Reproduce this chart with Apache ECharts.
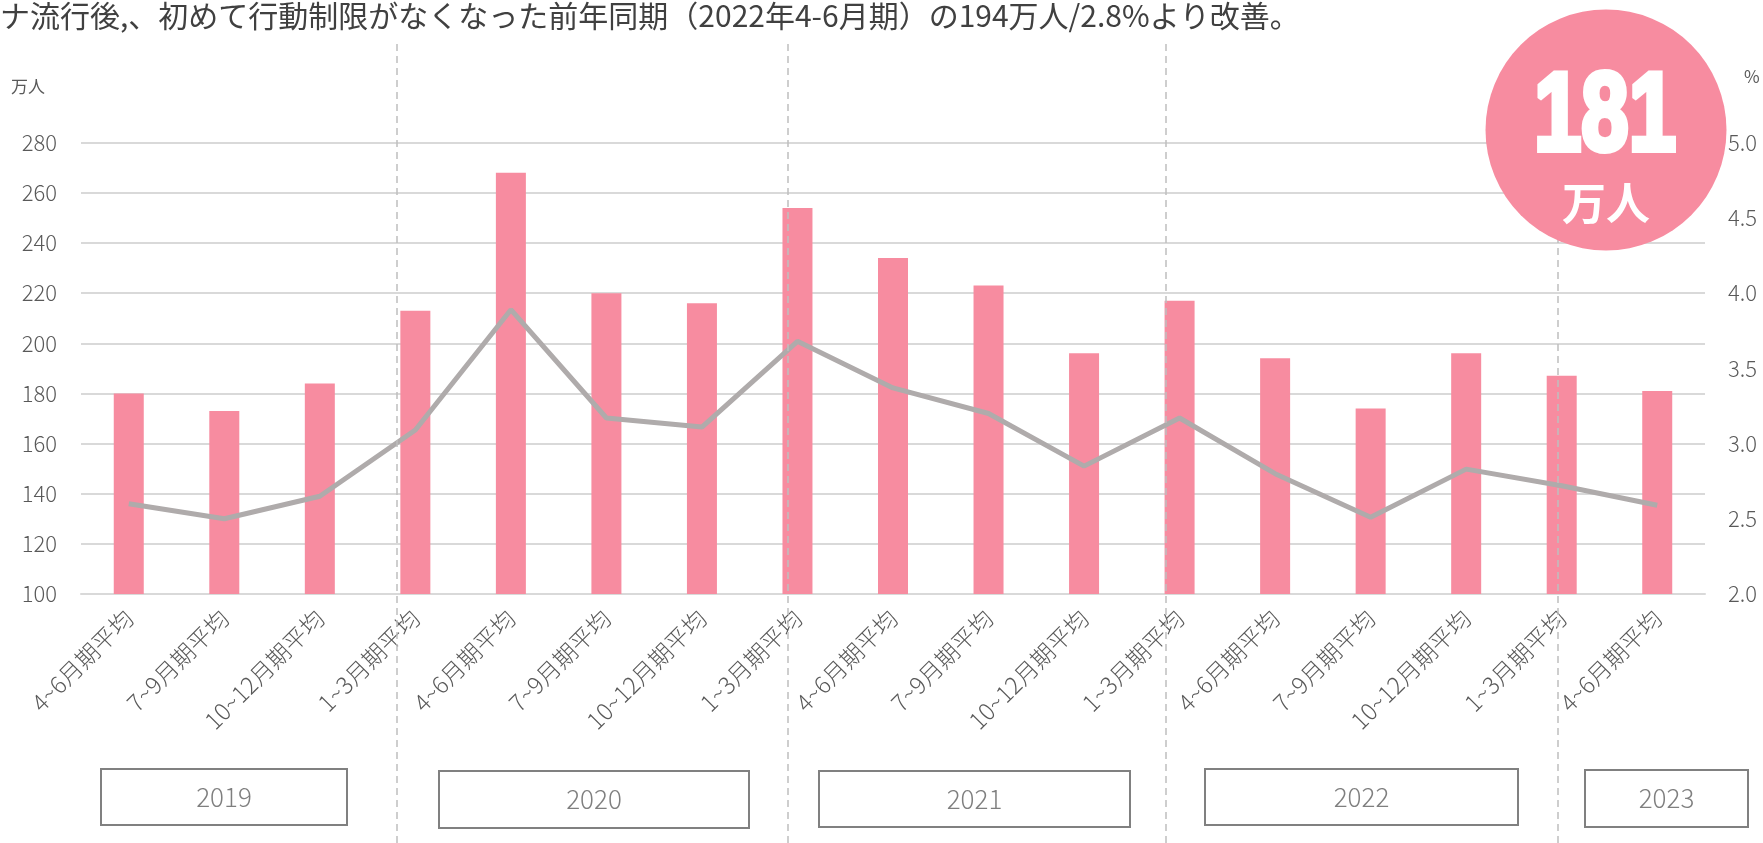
<!DOCTYPE html>
<html>
<head>
<meta charset="utf-8">
<script src="https://cdn.jsdelivr.net/npm/echarts@6/dist/echarts.min.js"></script>
<style>
  html, body { margin: 0; padding: 0; background: #fff; }
  #chart { width: 1763px; height: 843px; }
</style>
</head>
<body>
<div id="chart"></div>
<script>
// 四半期ラベル (2019年4-6月期 〜 2023年4-6月期)
const quarters = [
  '4~6月期平均', '7~9月期平均', '10~12月期平均',
  '1~3月期平均', '4~6月期平均', '7~9月期平均', '10~12月期平均',
  '1~3月期平均', '4~6月期平均', '7~9月期平均', '10~12月期平均',
  '1~3月期平均', '4~6月期平均', '7~9月期平均', '10~12月期平均',
  '1~3月期平均', '4~6月期平均'
]
// 完全失業者数 (万人)
const unemployed = [180, 173, 184, 213, 268, 220, 216, 254, 234, 223, 196, 217, 194, 174, 196, 187, 181]
// 完全失業率 (%)
const unemploymentRate = [2.60, 2.50, 2.65, 3.09, 3.89, 3.17, 3.11, 3.68, 3.37, 3.20, 2.85, 3.17, 2.80, 2.51, 2.83, 2.72, 2.59]
// 年の区切り線 (カテゴリ位置)
const yearDividers = [3.31, 7.40, 11.36, 15.46]
const years = ['2019', '2020', '2021', '2022', '2023']
const yearBoxes = [[100, 768, 246, 56], [438, 770, 310, 57], [818, 770, 311, 56], [1204, 768, 313, 56], [1584, 769, 163, 57]]

const leftTicks = { min: 100, max: 280, interval: 20 }
const rightTicks = { min: 2, max: 5, interval: 0.5 }

const FONT = '"Noto Sans CJK JP", "Noto Sans", sans-serif'
const PINK = '#F78CA0'
const GRID_COLOR = '#D9D9D9'
const LABEL_COLOR = '#595959'

const chart = echarts.init(document.getElementById('chart'))

const yearGraphics = years.map((y, i) => {
  const [x, top, w, h] = yearBoxes[i]
  return {
    type: 'group',
    left: x,
    top: top,
    children: [
      { type: 'rect', shape: { x: 0, y: 0, width: w, height: h },
        style: { fill: '#fff', stroke: '#808080', lineWidth: 2 } },
      { type: 'text', x: w / 2, y: h / 2,
        style: { text: y, font: '300 26px ' + FONT, fill: '#7F7F7F', align: 'center', verticalAlign: 'middle' } }
    ]
  }
})

const option = {
  animation: false,
  grid: [
    { left: 81, right: 58, top: 142.7, bottom: 249 },
    { left: 81, right: 58, top: 40, bottom: 0 }
  ],
  xAxis: [
    {
      type: 'category',
      data: quarters,
      gridIndex: 0,
      axisLine: { lineStyle: { color: GRID_COLOR, width: 2 } },
      axisTick: { show: false },
      axisLabel: {
        rotate: 45,
        interval: 0,
        margin: 20,
        fontSize: 23.5,
        fontWeight: 300,
        fontFamily: FONT,
        color: LABEL_COLOR
      }
    },
    { type: 'value', gridIndex: 1, min: 0, max: quarters.length, show: false }
  ],
  yAxis: [
    {
      type: 'value',
      gridIndex: 0,
      ...leftTicks,
      axisLine: { show: false },
      axisTick: { show: false },
      axisLabel: { margin: 24, fontSize: 22, fontWeight: 300, fontFamily: FONT, color: LABEL_COLOR },
      splitLine: { lineStyle: { color: GRID_COLOR, width: 2 } }
    },
    {
      type: 'value',
      gridIndex: 0,
      ...rightTicks,
      position: 'right',
      axisLine: { show: false },
      axisTick: { show: false },
      splitLine: { show: false },
      axisLabel: {
        margin: 23,
        fontSize: 22,
        fontWeight: 300,
        fontFamily: FONT,
        color: LABEL_COLOR,
        formatter: v => v.toFixed(1)
      }
    },
    { type: 'value', gridIndex: 1, min: 0, max: 1, show: false }
  ],
  series: [
    {
      name: '完全失業者数',
      type: 'bar',
      data: unemployed,
      barWidth: 30,
      itemStyle: { color: PINK },
      z: 2
    },
    {
      name: '完全失業率',
      type: 'line',
      yAxisIndex: 1,
      data: unemploymentRate,
      symbol: 'none',
      lineStyle: { color: '#AFABAB', width: 5 },
      z: 3
    },
    {
      type: 'line',
      xAxisIndex: 1,
      yAxisIndex: 2,
      data: [],
      silent: true,
      z: 4,
      markLine: {
        silent: true,
        symbol: 'none',
        label: { show: false },
        lineStyle: { color: '#BFBFBF', width: 1.5, type: [7, 5] },
        data: yearDividers.map(x => ({ xAxis: x }))
      }
    }
  ],
  graphic: [
    { type: 'text', left: 0, top: 1,
      style: { text: 'ナ流行後,、初めて行動制限がなくなった前年同期（2022年4-6月期）の194万人/2.8%より改善。',
        font: '30px ' + FONT, fill: '#404040' } },
    { type: 'text', left: 11, top: 78,
      style: { text: '万人', font: '17px ' + FONT, fill: LABEL_COLOR } },
    { type: 'text', left: 1744, top: 68,
      style: { text: '%', font: '17px ' + FONT, fill: LABEL_COLOR } },
    { type: 'circle', shape: { cx: 1606, cy: 130, r: 120.5 }, style: { fill: PINK }, z: 10 },
    { type: 'text', x: 1605, y: 119, scaleX: 0.76, z: 11,
      style: { text: '181', font: 'bold 112px "Liberation Sans Narrow", sans-serif',
        fill: '#fff', stroke: '#fff', lineWidth: 6, align: 'center', verticalAlign: 'middle' } },
    { type: 'text', x: 1606, y: 203, z: 11,
      style: { text: '万人', font: 'bold 44px ' + FONT, fill: '#fff', align: 'center', verticalAlign: 'middle' } },
    ...yearGraphics
  ]
}

chart.setOption(option)
window.addEventListener('resize', () => chart.resize())
</script>
</body>
</html>
